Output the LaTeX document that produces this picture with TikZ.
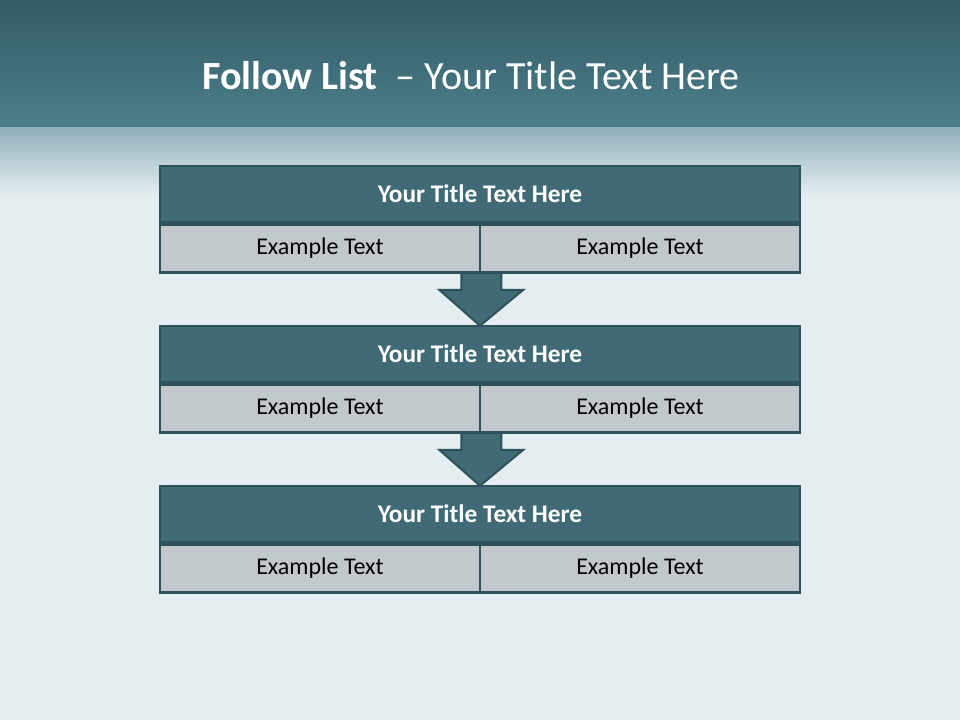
\documentclass[tikz,border=0pt]{standalone}
\usepackage{fontspec}
\setmainfont{Carlito}
\usepackage{tikz}
\usetikzlibrary{positioning, calc}

\definecolor{headtop}{HTML}{335A66}
\definecolor{headbot}{HTML}{4B808B}
\definecolor{paper}{HTML}{E4EDF0}
\definecolor{titlefill}{HTML}{406A75}
\definecolor{celfill}{HTML}{C1C9CD}
\definecolor{edge}{HTML}{2E525C}

\begin{document}
\begin{tikzpicture}[
      x=0.75pt, y=0.75pt,
      titlebox/.style={rectangle, draw=edge, line width=1.9pt, fill=titlefill,
        minimum width=480pt, minimum height=42pt, inner sep=0pt,
        text=white, font=\fontsize{19}{23}\selectfont\bfseries},
      cellbox/.style={rectangle, draw=edge, line width=1.9pt, fill=celfill,
        minimum width=240pt, minimum height=36pt, inner sep=0pt,
        text=black, font=\fontsize{18}{22}\selectfont},
      flowarrow/.style={draw=edge, line width=1.5pt, fill=titlefill, line join=miter}
    ]
      % background
      \fill[paper] (0,0) rectangle (960,720);
      \shade[top color=headtop, bottom color=headbot] (0,720) rectangle (960,592);
      \shade[top color=headbot!55!paper, bottom color=paper] (0,592) rectangle (960,525);
      \useasboundingbox (0,0) rectangle (960,720);

      \node[text=white, font=\fontsize{30}{36}\selectfont] (slidetitle) at (471,644)
        {\textbf{Follow List}\ \ – Your Title Text Here};

      % the three blocks
      \foreach \i/\y in {1/526,2/366,3/206} {
        \node[titlebox] (head\i) at (480,\y) {Your Title Text Here};
        \node[cellbox, below right=0pt of head\i.south west] (left\i) {Example Text};
        \node[cellbox, below left=0pt of head\i.south east] (right\i) {Example Text};
      }

      % arrows between the blocks
      \foreach \i/\j in {1/2,2/3} {
        \coordinate (base\i) at ($(left\i.south east)+(0,1)$);
        \coordinate (tip\i) at ($(head\j.north)+(0,-1)$);
        \draw[flowarrow] ($(base\i)+(-20,0)$) -- ($(base\i)+(-20,-17)$) -- ($(base\i)+(-42,-17)$)
          -- (tip\i) -- ($(base\i)+(42,-17)$) -- ($(base\i)+(20,-17)$) -- ($(base\i)+(20,0)$);
      }
      \foreach \i in {1,2,3} {
        \node[cellbox] at (left\i) {Example Text};
        \node[cellbox] at (right\i) {Example Text};
      }
    \end{tikzpicture}
\end{document}
